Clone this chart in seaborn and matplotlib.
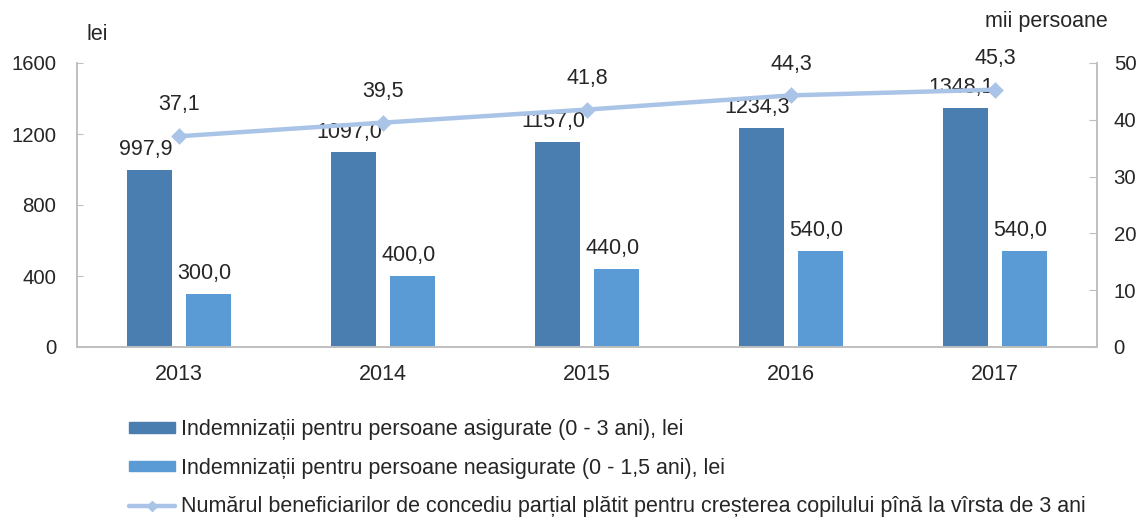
import pandas as pd
import matplotlib
matplotlib.use('Agg')
import matplotlib.pyplot as plt
from matplotlib.lines import Line2D
import seaborn as sns

# date
ani = ['2013', '2014', '2015', '2016', '2017']
asigurate = [997.9, 1097.0, 1157.0, 1234.3, 1348.1]
neasigurate = [300.0, 400.0, 440.0, 540.0, 540.0]
beneficiari = [37.1, 39.5, 41.8, 44.3, 45.3]

serie_asig = 'Indemnizații pentru persoane asigurate (0 - 3 ani), lei'
serie_neasig = 'Indemnizații pentru persoane neasigurate (0 - 1,5 ani), lei'
serie_benef = 'Numărul beneficiarilor de concediu parțial plătit pentru creșterea copilului pînă la vîrsta de 3 ani'

culoare_asig = '#4a7eb0'
culoare_neasig = '#5b9bd5'
culoare_linie = '#a9c4e6'
culoare_ax = '#bfbfbf'
culoare_text = '#262626'

sns.set_style('white')
plt.rcParams['font.family'] = ['Liberation Sans', 'DejaVu Sans']
plt.rcParams['font.size'] = 15


def fmt(v):
    return f'{v:.1f}'.replace('.', ',')


df = pd.DataFrame({
    'an': ani * 2,
    'valoare': asigurate + neasigurate,
    'serie': [serie_asig] * len(ani) + [serie_neasig] * len(ani),
})

fig = plt.figure(figsize=(11.43, 5.18), dpi=100)
ax = fig.add_axes([77 / 1143, 1 - 347 / 518, (1097 - 77) / 1143, (347 - 63) / 518])

sns.barplot(data=df, x='an', y='valoare', hue='serie', order=ani,
            palette=[culoare_asig, culoare_neasig], width=0.58, gap=0.24,
            saturation=1, linewidth=0, ax=ax, legend=False)

ax2 = ax.twinx()
sns.pointplot(x=ani, y=beneficiari, ax=ax2, color=culoare_linie, markers='D',
              markersize=6, linewidth=3.2)

ax.set_xlim(-0.5, 4.5)
ax.set_ylim(0, 1600)
ax2.set_ylim(0, 50)
ax.set_yticks([0, 400, 800, 1200, 1600])
ax2.set_yticks([0, 10, 20, 30, 40, 50])
ax.set_xlabel('')
ax.set_ylabel('')
ax2.set_ylabel('')

for a in (ax, ax2):
    a.spines['top'].set_visible(False)
    for s in ('left', 'right', 'bottom'):
        a.spines[s].set_color(culoare_ax)
        a.spines[s].set_linewidth(1.2)
    a.grid(False)

ax.tick_params(axis='y', direction='in', length=4, color=culoare_ax, pad=15,
               labelsize=14.7, labelcolor=culoare_text)
ax2.tick_params(axis='y', direction='in', length=6, color=culoare_ax, pad=12,
                labelsize=14.7, labelcolor=culoare_text)
ax.tick_params(axis='x', length=0, pad=12, labelsize=15.5, labelcolor=culoare_text)

# etichete bare
for cont in ax.containers:
    for bara in cont:
        h = bara.get_height()
        ax.annotate(fmt(h), (bara.get_x() + bara.get_width() / 2, h),
                    xytext=(-3, 7), textcoords='offset points',
                    ha='center', va='bottom', fontsize=15.5, color=culoare_text)

# etichete linie
for i, v in enumerate(beneficiari):
    ax2.annotate(fmt(v), (i, v), xytext=(0, 15), textcoords='offset points',
                 ha='center', va='bottom', fontsize=15.5, color=culoare_text)

fig.text(97 / 1143, 1 - 35 / 518, 'lei', ha='center', va='center',
         fontsize=15.5, color=culoare_text)
fig.text(1046 / 1143, 1 - 22 / 518, 'mii persoane', ha='center', va='center',
         fontsize=15.5, color=culoare_text)

handles = [
    plt.Rectangle((0, 0), 1, 1, color=culoare_asig),
    plt.Rectangle((0, 0), 1, 1, color=culoare_neasig),
    Line2D([0], [0], color=culoare_linie, lw=3.2, marker='D', markersize=5),
]
fig.legend(handles, [serie_asig, serie_neasig, serie_benef],
           loc='upper left', bbox_to_anchor=(129 / 1143, 1 - 419 / 518),
           frameon=False, fontsize=15.5, borderpad=0, borderaxespad=0,
           handlelength=2.15, handleheight=0.4, handletextpad=0.25,
           labelspacing=0.82, labelcolor=culoare_text)

fig.savefig('out.png', dpi=100)
